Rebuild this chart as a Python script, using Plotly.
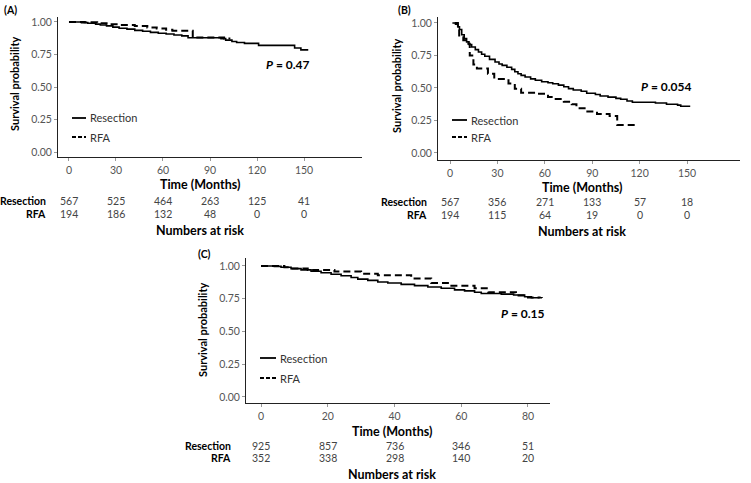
import plotly.graph_objects as go

W, H = 751, 483
FONT = "Lato"

# ---- data ----
# Panel A
a_res_t = [0, 8, 12, 17, 20, 24, 28, 32, 37, 42, 47, 52, 57, 62, 67, 72, 76, 97, 100, 104, 107, 112, 121, 144, 148, 152.7]
a_res_s = [1.0, 0.995, 0.99, 0.983, 0.977, 0.97, 0.96, 0.952, 0.945, 0.935, 0.928, 0.92, 0.913, 0.907, 0.90, 0.893,
           0.878, 0.872, 0.86, 0.85, 0.842, 0.835, 0.82, 0.80, 0.785, 0.785]
a_rfa_t = [0, 10, 18, 24, 32, 42, 50, 56, 62, 66, 79, 99, 103]
a_rfa_s = [1.0, 0.997, 0.99, 0.982, 0.976, 0.968, 0.958, 0.95, 0.94, 0.933, 0.88, 0.873, 0.873]

# Panel B
b_res_t = [1.5, 3.5, 5, 6, 7.4, 9, 10.5, 12, 13.7, 16, 18, 20, 22, 25, 28.5, 31, 33, 36, 39, 41, 43, 45, 47.5, 51, 54,
           58, 62, 65, 68.6, 72, 75, 78, 83, 86.5, 92, 95, 100, 105, 108, 112, 115.4, 130, 137, 144, 146, 152]
b_res_s = [1.0, 0.99, 0.97, 0.95, 0.91, 0.88, 0.855, 0.835, 0.815, 0.795, 0.777, 0.76, 0.744, 0.72, 0.70, 0.685, 0.674,
           0.66, 0.643, 0.625, 0.61, 0.597, 0.585, 0.57, 0.559, 0.548, 0.54, 0.533, 0.522, 0.51, 0.495, 0.485, 0.475,
           0.46, 0.45, 0.438, 0.43, 0.42, 0.413, 0.40, 0.39, 0.385, 0.375, 0.368, 0.36, 0.36]
b_rfa_t = [3, 5, 5.8, 8.4, 11.6, 12.5, 14.8, 17, 24, 28, 37, 41, 45, 54, 62, 66, 72, 77, 80, 86, 93, 101, 105.8, 117]
b_rfa_s = [1.0, 0.96, 0.89, 0.867, 0.84, 0.75, 0.68, 0.65, 0.61, 0.57, 0.535, 0.495, 0.464, 0.456, 0.43, 0.415, 0.395,
           0.375, 0.345, 0.32, 0.30, 0.285, 0.215, 0.215]

# Panel C
c_res_t = [0, 4, 6, 9, 12, 15, 18, 21, 24, 27, 29, 32, 35, 38, 42, 46, 50, 54, 58, 61, 64, 66, 72, 75.7, 79, 81, 84.2]
c_res_s = [1.0, 0.997, 0.99, 0.98, 0.97, 0.96, 0.948, 0.937, 0.925, 0.912, 0.90, 0.89, 0.878, 0.87, 0.86, 0.85, 0.84,
           0.83, 0.818, 0.81, 0.80, 0.79, 0.785, 0.778, 0.765, 0.758, 0.755]
c_rfa_t = [0, 7, 9, 14, 22, 30, 35, 45, 51, 56, 64, 68.1, 76.4, 80, 83.5]
c_rfa_s = [1.0, 0.99, 0.98, 0.97, 0.957, 0.94, 0.93, 0.905, 0.87, 0.85, 0.83, 0.80, 0.775, 0.76, 0.755]

# numbers at risk
ab_ticks = [0, 30, 60, 90, 120, 150]
c_ticks = [0, 20, 40, 60, 80]
a_risk_res = [567, 525, 464, 263, 125, 41]
a_risk_rfa = [194, 186, 132, 48, 0, 0]
b_risk_res = [567, 356, 271, 133, 57, 18]
b_risk_rfa = [194, 115, 64, 19, 0, 0]
c_risk_res = [925, 857, 736, 346, 51]
c_risk_rfa = [352, 338, 298, 140, 20]


def px(x):
    return x / W


def py(y):
    return 1 - y / H


fig = go.Figure()

panels = [
    ("", a_res_t, a_res_s, a_rfa_t, a_rfa_s),
    ("2", b_res_t, b_res_s, b_rfa_t, b_rfa_s),
    ("3", c_res_t, c_res_s, c_rfa_t, c_rfa_s),
]
for ax, rt, rs, ft, fs in panels:
    fig.add_trace(go.Scatter(x=rt, y=rs, mode="lines", line=dict(color="black", width=1.6, shape="hv"),
                             name="Resection", xaxis="x" + ax, yaxis="y" + ax, showlegend=False))
    fig.add_trace(go.Scatter(x=ft, y=fs, mode="lines", line=dict(color="black", width=2, shape="hv", dash="7px,4px"),
                             name="RFA", xaxis="x" + ax, yaxis="y" + ax, showlegend=False))

axis_common = dict(showline=True, linecolor="#222", linewidth=1, ticks="outside", ticklen=3, tickcolor="#999",
                   showgrid=False, zeroline=False, automargin=False,
                   tickfont=dict(family=FONT, size=10.5, color="#555"))
yticks = [0, 0.25, 0.5, 0.75, 1.0]
ylab = ["%.2f" % v for v in yticks]

fig.update_layout(
    width=W, height=H, margin=dict(l=0, r=0, t=0, b=0),
    paper_bgcolor="white", plot_bgcolor="white",
    font=dict(family=FONT, color="black"),
    xaxis=dict(domain=[px(58), px(362)], range=[-7, 187], tickvals=ab_ticks, anchor="y", **axis_common),
    yaxis=dict(domain=[py(157), py(17)], range=[-0.038, 1.038], tickvals=yticks, ticktext=ylab, anchor="x",
               **axis_common),
    xaxis2=dict(domain=[px(438), px(740)], range=[-7.6, 183.5], tickvals=ab_ticks, anchor="y2", **axis_common),
    yaxis2=dict(domain=[py(160), py(17)], range=[-0.054, 1.046], tickvals=yticks, ticktext=ylab, anchor="x2",
                **axis_common),
    xaxis3=dict(domain=[px(246), px(550)], range=[-4.5, 86.6], tickvals=c_ticks, anchor="y3", **axis_common),
    yaxis3=dict(domain=[py(403), py(258)], range=[-0.046, 1.061], tickvals=yticks, ticktext=ylab, anchor="x3",
                **axis_common),
)

ann = []
shapes = []


def text(x, y, s, size=11, bold=False, color="black", xanchor="center", angle=0, xref="paper", yref="paper"):
    if bold:
        s = "<b>" + s + "</b>"
    ann.append(dict(x=x, y=y, xref=xref, yref=yref, text=s, showarrow=False, xanchor=xanchor, yanchor="middle",
                    textangle=angle, borderpad=0, font=dict(family=FONT, size=size, color=color)))


# panel letters
text(px(3), py(10), "(A)", size=10.5, bold=True, xanchor="left")
text(px(397), py(10), "(B)", size=10.5, bold=True, xanchor="left")
text(px(197), py(254), "(C)", size=10.5, bold=True, xanchor="left")

# y titles
text(px(14), py(84), "Survival probability", size=11, bold=True, angle=-90)
text(px(397), py(86), "Survival probability", size=11, bold=True, angle=-90)
text(px(202), py(330), "Survival probability", size=11, bold=True, angle=-90)

# x titles and risk tables
tables = [
    ("x", ab_ticks, a_risk_res, a_risk_rfa, 200, 184, 201, 214, 230, 47),
    ("x2", ab_ticks, b_risk_res, b_risk_rfa, 582, 187, 202, 215, 232, 428),
    ("x3", c_ticks, c_risk_res, c_risk_rfa, 392, 431, 446, 458, 474, 232),
]
for xr, ticks, rres, rrfa, cx, ty, y1, y2, ny, lx in tables:
    text(px(cx), py(ty), "Time (Months)", size=12.5, bold=True)
    text(px(lx), py(y1), "Resection", size=10.5, bold=True, xanchor="right")
    text(px(lx), py(y2), "RFA", size=10.5, bold=True, xanchor="right")
    for t, r1, r2 in zip(ticks, rres, rrfa):
        text(t, py(y1), str(r1), size=10.5, color="#444", xref=xr)
        text(t, py(y2), str(r2), size=10.5, color="#444", xref=xr)
    text(px(cx), py(ny), "Numbers at risk", size=12.5, bold=True)

# p values
text(140, 0.67, "<i>P</i> = 0.47", size=12, bold=True, xref="x", yref="y")
text(137, 0.51, "<i>P</i> = 0.054", size=12, bold=True, xref="x2", yref="y2")
text(78.5, 0.64, "<i>P</i> = 0.15", size=12, bold=True, xref="x3", yref="y3")

# legends
legends = [(72, 86, 118, 137), (452, 467, 120, 137), (260, 276, 358, 378)]
for x0, x1, yr, yf in legends:
    shapes.append(dict(type="line", xref="paper", yref="paper", x0=px(x0), x1=px(x1), y0=py(yr), y1=py(yr),
                       line=dict(color="black", width=1.8)))
    shapes.append(dict(type="line", xref="paper", yref="paper", x0=px(x0), x1=px(x1), y0=py(yf), y1=py(yf),
                       line=dict(color="black", width=1.8, dash="4px,2px")))
    text(px(x1 + 3), py(yr), "Resection", size=11, color="#333", xanchor="left")
    text(px(x1 + 3), py(yf), "RFA", size=11, color="#333", xanchor="left")

fig.update_layout(annotations=ann, shapes=shapes)

# the default page keeps an 8px body margin; drop it so the figure fills the window
fig.write_html("out.html", config={"displayModeBar": False},
               post_script="document.body.style.margin='0';")
